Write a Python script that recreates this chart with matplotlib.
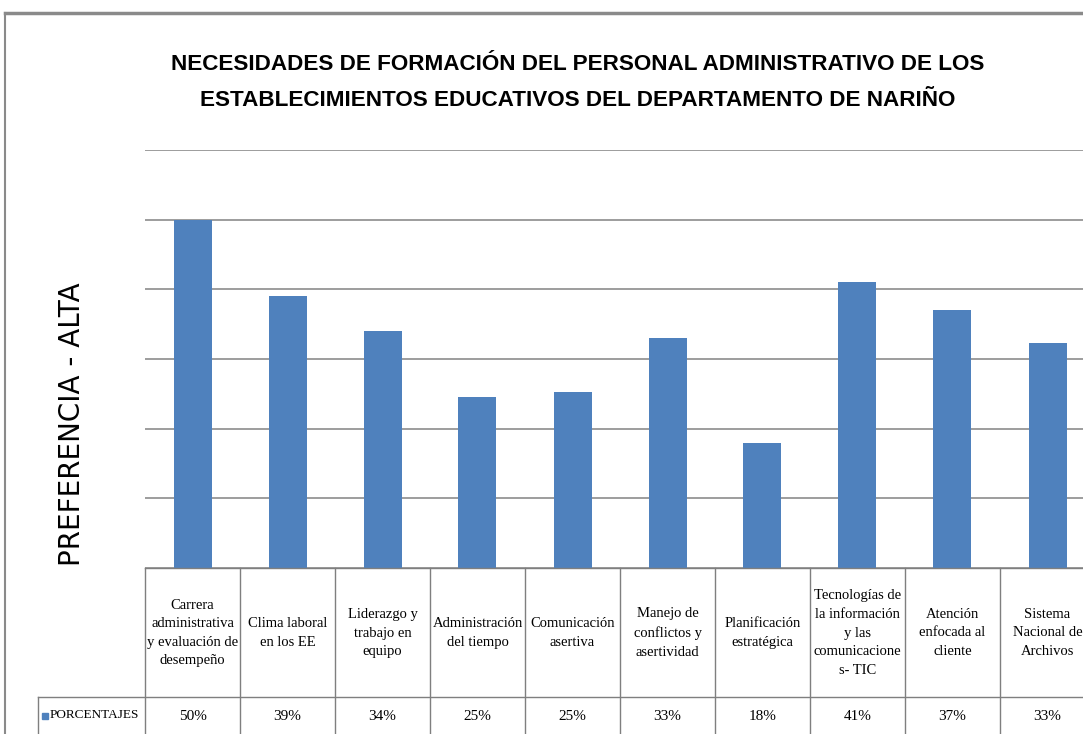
import matplotlib.pyplot as plt
from matplotlib.lines import Line2D
from matplotlib.patches import Rectangle

categories = [
    "Carrera\nadministrativa\ny evaluación de\ndesempeño",
    "Clima laboral\nen los EE",
    "Liderazgo y\ntrabajo en\nequipo",
    "Administración\ndel tiempo",
    "Comunicación\nasertiva",
    "Manejo de\nconflictos y\nasertividad",
    "Planificación\nestratégica",
    "Tecnologías de\nla información\ny las\ncomunicacione\ns- TIC",
    "Atención\nenfocada al\ncliente",
    "Sistema\nNacional de\nArchivos",
]
values = [50, 39, 34, 24.6, 25.3, 33, 18, 41, 37, 32.3]
value_labels = ["50%", "39%", "34%", "25%", "25%", "33%", "18%", "41%", "37%", "33%"]
series_name = "PORCENTAJES"

W, H = 1083, 734
blue = "#4F81BD"
grid_c = "#8C8C8C"
serif = ["Liberation Serif", "DejaVu Serif"]

fig = plt.figure(figsize=(W / 100, H / 100), dpi=100)

# plot area: x from 145 px, 95 px per column, baseline at y=568, top gridline at y=150
col_w = 95
ax = fig.add_axes([145 / W, (H - 568) / H, col_w * len(categories) / W, (568 - 150) / H])
ax.set_xlim(-0.5, len(categories) - 0.5)
ax.set_ylim(0, 60)
ax.bar(range(len(values)), values, width=0.4, color=blue, zorder=3)
ax.set_yticks(range(0, 61, 10))
ax.yaxis.grid(True, color=grid_c, linewidth=1.2, zorder=0)
ax.set_yticklabels([])
ax.tick_params(length=0)
ax.set_xticks([])
for s in ax.spines.values():
    s.set_visible(False)

# figure border (top and left visible)
fig.add_artist(Line2D([5 / W, 1], [1 - 13 / H, 1 - 13 / H], color="#8A8A8A", lw=2.5))
fig.add_artist(Line2D([5 / W, 5 / W], [0, 1 - 13 / H], color="#8A8A8A", lw=1.5))

title_font = dict(ha="center", va="center", fontsize=16.2, fontweight="bold",
                  family=["Liberation Sans", "DejaVu Sans"])
fig.text(578 / W, 1 - 65 / H, "NECESIDADES DE FORMACIÓN DEL PERSONAL ADMINISTRATIVO DE LOS", **title_font)
fig.text(578 / W, 1 - 100 / H, "ESTABLECIMIENTOS EDUCATIVOS DEL DEPARTAMENTO DE NARIÑO", **title_font)

fig.text(72 / W, 1 - 424 / H, "PREFERENCIA - ALTA",
         rotation=90, ha="center", va="center", fontsize=20,
         family=["DejaVu Sans"])

# data table below the plot
tc = "#7F7F7F"
def fx(px):
    return px / W
def fy(py):
    return 1 - py / H

x_edges = [145 + col_w * i for i in range(len(categories) + 1)]
fig.add_artist(Line2D([fx(145), 1], [fy(568), fy(568)], color=tc, lw=1))
fig.add_artist(Line2D([fx(38), 1], [fy(697), fy(697)], color=tc, lw=1))
fig.add_artist(Line2D([fx(38), fx(38)], [fy(697), 0], color=tc, lw=1))
for i, xe in enumerate(x_edges):
    if xe > W:
        continue
    fig.add_artist(Line2D([fx(xe), fx(xe)], [fy(568), 0], color=tc, lw=1))

for i, (cat, lab) in enumerate(zip(categories, value_labels)):
    cx = x_edges[i] + col_w / 2
    fig.text(fx(cx), fy(633), cat, ha="center", va="center", fontsize=10.5,
             linespacing=1.55, family=serif)
    fig.text(fx(cx), fy(716), lab, ha="center", va="center", fontsize=11, family=serif)

fig.add_artist(Rectangle((fx(42), fy(719)), 6 / W, 6 / H, color=blue))
fig.text(fx(50), fy(715), series_name, ha="left", va="center", fontsize=9.5, family=serif)

fig.savefig("out.png", dpi=100)
